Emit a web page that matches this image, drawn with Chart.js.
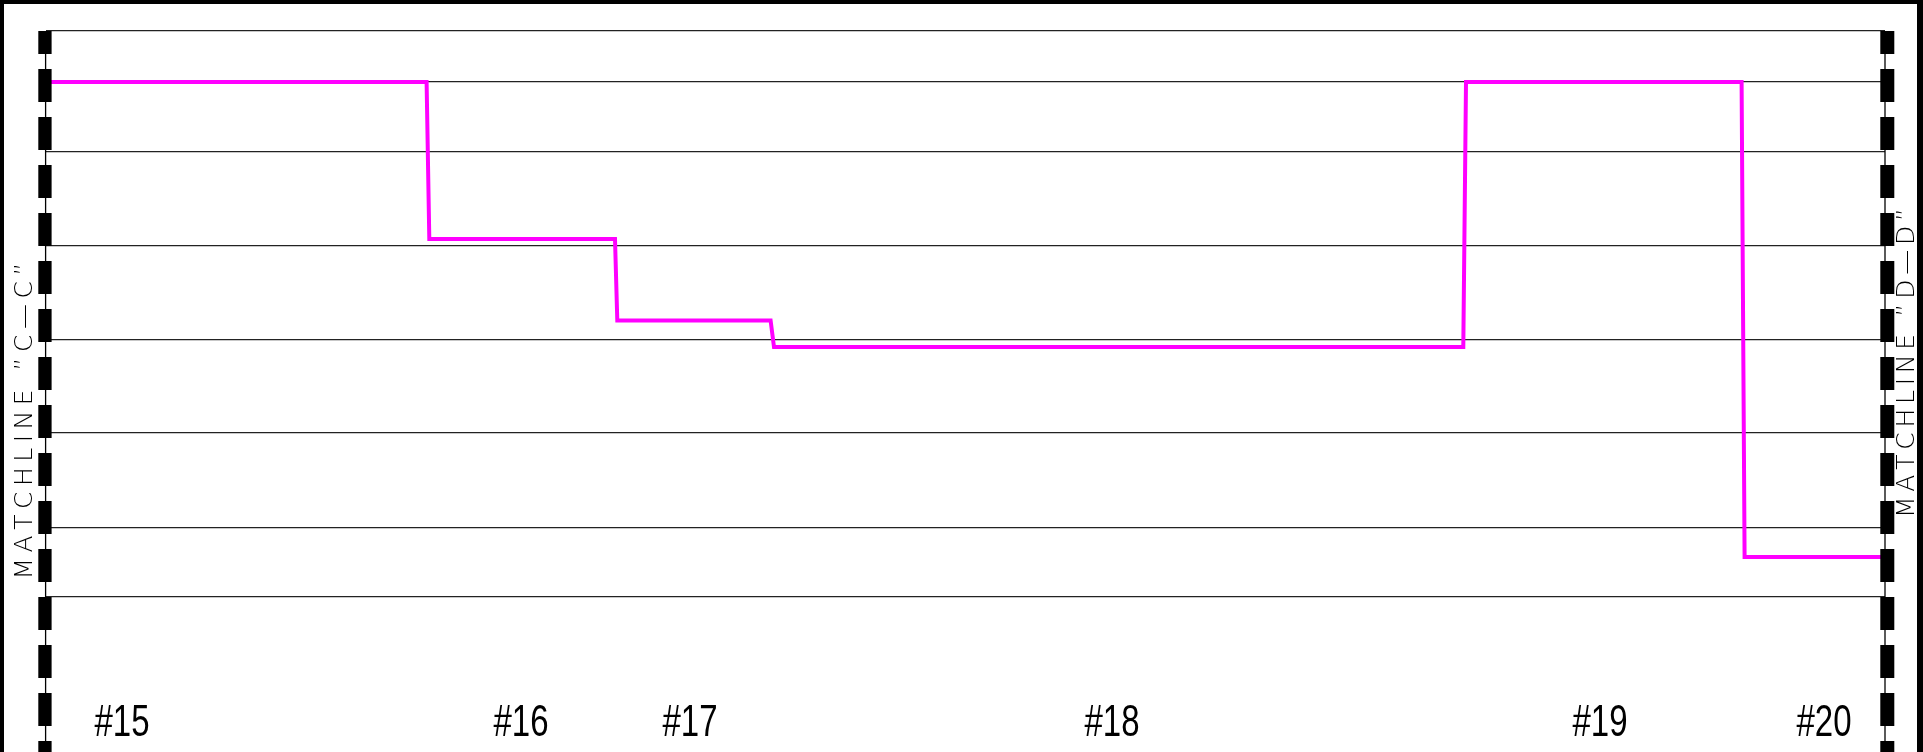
<!DOCTYPE html>
<html lang="en">
  <head>
    <meta charset="UTF-8" />
    <title>profile</title>
    <script src="https://cdn.jsdelivr.net/npm/chart.js@4.4.1/dist/chart.umd.min.js"></script>
    <style>
      body { margin: 0; background: #fff; }
      canvas { display: block; }
    </style>
  </head>
  <body>
    <canvas id="chart" width="1923" height="752"></canvas>

    <script>
      // horizontal distance along the sheet and depth below top line
      const profileX = [0, 381, 383.7, 569.4, 571.7, 725, 728.4, 1417.7, 1420.4, 1696, 1699, 1839.4];
      const profileY = [51, 51, 208, 208, 289.5, 289.5, 316, 316, 51, 51, 526, 526];

      const gridLevels = [0, 51, 121, 215, 309, 402, 497, 566];

      const stationPos = [76.4, 475.4, 644.4, 1066.4, 1554.4, 1778.4];
      const stationLabels = ["#15", "#16", "#17", "#18", "#19", "#20"];

      const matchLeft = "MATCHLINE ”C—C”";
      const matchRight = "MATCHLINE ”D—D”";

      function spacedText(ctx, text, length) {
        const chars = text.split("");
        const widths = chars.map((c) => ctx.measureText(c).width);
        const total = widths.reduce((a, b) => a + b, 0);
        const gap = (length - total) / (chars.length - 1);
        let x = -length / 2;
        for (let i = 0; i < chars.length; i++) {
          ctx.fillText(chars[i], x, 0);
          x += widths[i] + gap;
        }
      }

      const sheetPlugin = {
        id: "sheet",
        afterDatasetsDraw(chart) {
          const ctx = chart.ctx;
          const a = chart.chartArea;
          const W = chart.width;
          const H = chart.height;
          ctx.save();
          ctx.fillStyle = "#000";
          // sheet frame
          ctx.fillRect(0, 0, W, 4);
          ctx.fillRect(0, 0, 4, H);
          ctx.fillRect(W - 6, 0, 6, H);

          // match lines
          ctx.strokeStyle = "#000";
          ctx.lineWidth = 1.3;
          [a.left, a.right].forEach((x) => {
            ctx.beginPath();
            ctx.moveTo(x, a.top);
            ctx.lineTo(x, H);
            ctx.stroke();
          });
          for (let y = a.top - 10; y < H; y += 48) {
            const y0 = Math.max(y, a.top);
            const h = y + 33 - y0;
            ctx.fillRect(a.left - 7.3, y0, 13.3, h);
            ctx.fillRect(a.right - 4.7, y0, 14, h);
          }

          // station labels, narrow lettering under the x scale positions
          const xs = chart.scales.x;
          ctx.font = '44px "Liberation Sans", sans-serif';
          ctx.textAlign = "center";
          ctx.textBaseline = "middle";
          stationLabels.forEach((t, i) => {
            ctx.save();
            ctx.translate(xs.getPixelForValue(stationPos[i]), a.bottom + 127);
            ctx.scale(0.75, 1);
            ctx.fillText(t, 0, 0);
            ctx.restore();
          });

          // match line notes
          ctx.font = '200 25px "DejaVu Sans"';
          ctx.textBaseline = "middle";
          ctx.textAlign = "left";
          ctx.save();
          ctx.translate(25, 421);
          ctx.rotate(-Math.PI / 2);
          spacedText(ctx, matchLeft, 317);
          ctx.restore();
          ctx.save();
          ctx.translate(1907, 363);
          ctx.rotate(-Math.PI / 2);
          spacedText(ctx, matchRight, 310);
          ctx.restore();
          ctx.restore();
        },
      };

      new Chart(document.getElementById("chart"), {
        type: "line",
        data: {
          datasets: [
            {
              data: profileX.map((x, i) => ({ x: x, y: profileY[i] })),
              borderColor: "#ff00ff",
              borderWidth: 4,
              pointRadius: 0,
              fill: false,
              tension: 0,
            },
          ],
        },
        options: {
          responsive: false,
          devicePixelRatio: 1,
          animation: false,
          layout: { padding: { left: 45.6, right: 38, top: 31, bottom: 0 } },
          plugins: { legend: { display: false }, tooltip: { enabled: false } },
          scales: {
            x: {
              type: "linear",
              min: 0,
              max: 1839.4,
              grid: { display: false },
              border: { display: false },
              afterBuildTicks: (scale) => {
                scale.ticks = stationPos.map((v) => ({ value: v }));
              },
              afterFit: (scale) => {
                scale.height = 155;
                scale.paddingLeft = 0;
                scale.paddingRight = 0;
              },
              ticks: { display: false },
            },
            y: {
              type: "linear",
              reverse: true,
              min: 0,
              max: 566,
              border: { display: false },
              afterBuildTicks: (scale) => {
                scale.ticks = gridLevels.map((v) => ({ value: v }));
              },
              afterFit: (scale) => {
                scale.width = 0;
              },
              grid: { color: "#222", lineWidth: 1.3, drawTicks: false },
              ticks: { display: false },
            },
          },
        },
        plugins: [sheetPlugin],
      });
    </script>
  </body>
</html>
